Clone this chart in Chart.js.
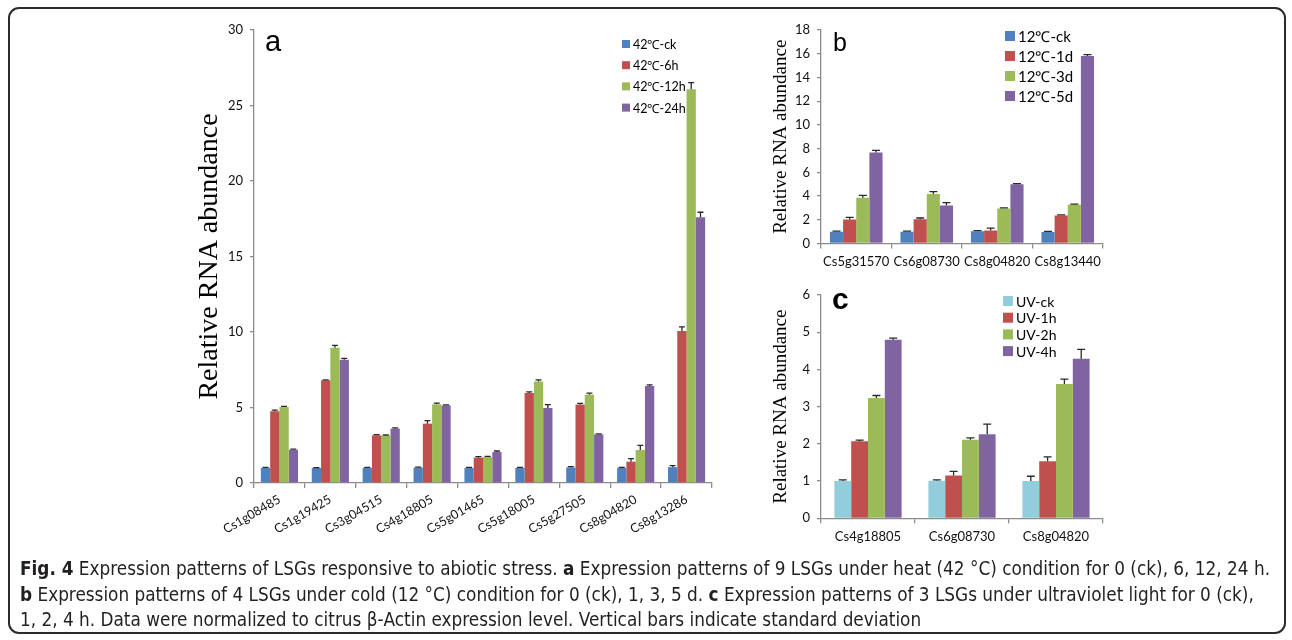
<!DOCTYPE html>
<html>
<head>
<meta charset="utf-8">
<script src="https://cdn.jsdelivr.net/npm/chart.js@4.4.1/dist/chart.umd.min.js"></script>
<style>
  body { margin: 0; background: #fff; width: 1292px; height: 640px; overflow: hidden; position: relative; }
  #frame { position: absolute; left: 8px; top: 7px; width: 1274px; height: 623px; border: 2px solid #2b2b2b; border-radius: 11px; }
  canvas { position: absolute; }
  .panel { position: absolute; font-family: "Liberation Sans", Arial, sans-serif; color: #000; line-height: 1; }
  #caption { position: absolute; left: 20px; top: 556px; font-family: "Liberation Sans Narrow", "DejaVu Sans Condensed", sans-serif;
             font-size: 18.8px; line-height: 25.5px; color: #231f20; white-space: nowrap; }
  #caption b { font-weight: bold; }
</style>
</head>
<body>
<div id="frame"></div>
<canvas id="chartA" width="540" height="560" style="left:180px;top:0px"></canvas>
<canvas id="chartB" width="350" height="280" style="left:760px;top:0px"></canvas>
<canvas id="chartC" width="350" height="280" style="left:760px;top:280px"></canvas>
<div class="panel" style="left:265px;top:27px;font-size:29px">a</div>
<div class="panel" style="left:833px;top:30px;font-size:25px">b</div>
<div class="panel" style="left:832px;top:284px;font-size:30px;font-weight:bold">c</div>
<div id="caption"><b>Fig. 4</b> Expression patterns of LSGs responsive to abiotic stress. <b>a</b> Expression patterns of 9 LSGs under heat (42 °C) condition for 0 (ck), 6, 12, 24 h.<br><b>b</b> Expression patterns of 4 LSGs under cold (12 °C) condition for 0 (ck), 1, 3, 5 d. <b>c</b> Expression patterns of 3 LSGs under ultraviolet light for 0 (ck),<br>1, 2, 4 h. Data were normalized to citrus β-Actin expression level. Vertical bars indicate standard deviation</div>
<script>
/* Panel a: heat (42 C) */
const heatGenes = ['Cs1g08485', 'Cs1g19425', 'Cs3g04515', 'Cs4g18805', 'Cs5g01465', 'Cs5g18005', 'Cs5g27505', 'Cs8g04820', 'Cs8g13286'];
const heatLabels = ['42℃-ck', '42℃-6h', '42℃-12h', '42℃-24h'];
const heatCk = [1.0, 1.0, 1.0, 1.02, 1.0, 1.0, 1.03, 1.0, 1.05];
const heat6h = [4.75, 6.8, 3.16, 3.93, 1.68, 5.96, 5.19, 1.41, 10.07];
const heat12h = [5.03, 8.96, 3.15, 5.21, 1.72, 6.73, 5.85, 2.19, 26.07];
const heat24h = [2.2, 8.17, 3.6, 5.14, 2.05, 4.97, 3.22, 6.42, 17.6];
const heatCkErr = [0.03, 0.02, 0.03, 0.03, 0.03, 0.03, 0.05, 0.03, 0.1];
const heat6hErr = [0.08, 0.03, 0.05, 0.2, 0.07, 0.07, 0.08, 0.2, 0.27];
const heat12hErr = [0.05, 0.15, 0.03, 0.08, 0.04, 0.1, 0.1, 0.3, 0.45];
const heat24hErr = [0.05, 0.08, 0.05, 0.03, 0.07, 0.22, 0.03, 0.08, 0.33];

/* Panel b: cold (12 C) */
const coldGenes = ['Cs5g31570', 'Cs6g08730', 'Cs8g04820', 'Cs8g13440'];
const coldLabels = ['12℃-ck', '12℃-1d', '12℃-3d', '12℃-5d'];
const coldCk = [1.0, 1.0, 1.04, 0.98];
const cold1d = [2.03, 2.05, 1.1, 2.37];
const cold3d = [3.85, 4.17, 2.95, 3.26];
const cold5d = [7.68, 3.2, 5.0, 15.8];
const coldCkErr = [0.05, 0.05, 0.05, 0.05];
const cold1dErr = [0.17, 0.1, 0.2, 0.05];
const cold3dErr = [0.2, 0.2, 0.05, 0.06];
const cold5dErr = [0.17, 0.25, 0.05, 0.12];

/* Panel c: UV */
const uvGenes = ['Cs4g18805', 'Cs6g08730', 'Cs8g04820'];
const uvLabels = ['UV-ck', 'UV-1h', 'UV-2h', 'UV-4h'];
const uvCk = [1.0, 1.01, 1.0];
const uv1h = [2.07, 1.15, 1.53];
const uv2h = [3.23, 2.11, 3.61];
const uv4h = [4.8, 2.26, 4.29];
const uvCkErr = [0.03, 0.02, 0.13];
const uv1hErr = [0.03, 0.11, 0.12];
const uv2hErr = [0.07, 0.05, 0.13];
const uv4hErr = [0.04, 0.27, 0.25];

const blue = '#4f81bd', red = '#c0504d', green = '#9bbb59', purple = '#8064a2', cyan = '#92cddc';
const axisGrey = '#8c8c8c';
const tickFont = "Lato, 'Liberation Sans', sans-serif";

/* error bars drawn on top of each bar */
const errorBars = {
    id: 'errorBars',
    afterDatasetsDraw(chart, args, opts) {
        const ctx = chart.ctx;
        const yScale = chart.scales.y;
        ctx.save();
        ctx.strokeStyle = '#2a2a2a';
        ctx.lineWidth = 1.3;
        chart.data.datasets.forEach((ds, i) => {
            const meta = chart.getDatasetMeta(i);
            meta.data.forEach((bar, j) => {
                const top = yScale.getPixelForValue(ds.data[j] + ds.errors[j]);
                ctx.beginPath();
                ctx.moveTo(bar.x, bar.y);
                ctx.lineTo(bar.x, top);
                ctx.moveTo(bar.x - opts.cap, top);
                ctx.lineTo(bar.x + opts.cap, top);
                ctx.stroke();
            });
        });
        ctx.restore();
    }
};

/* small legend placed inside the plot, like the original */
const boxLegend = {
    id: 'boxLegend',
    afterDraw(chart, args, opts) {
        const ctx = chart.ctx;
        ctx.save();
        ctx.font = opts.size + 'px ' + tickFont;
        ctx.textBaseline = 'middle';
        chart.data.datasets.forEach((ds, i) => {
            const y = opts.y + i * opts.gap;
            ctx.fillStyle = ds.backgroundColor;
            ctx.fillRect(opts.x, y - opts.box / 2, opts.box, opts.box);
            ctx.fillStyle = '#000';
            ctx.fillText(ds.label, opts.x + opts.box + 3, y + 1);
        });
        ctx.restore();
    }
};

function makeSets(labels, colors, values, errs) {
    return labels.map((l, i) => ({
        label: l,
        data: values[i],
        errors: errs[i],
        backgroundColor: colors[i],
        borderWidth: 0
    }));
}

function makeChart(id, genes, sets, o) {
    return new Chart(document.getElementById(id), {
        type: 'bar',
        data: { labels: genes, datasets: sets },
        plugins: [errorBars, boxLegend],
        options: {
            responsive: false,
            animation: false,
            devicePixelRatio: 1,
            categoryPercentage: o.cat,
            barPercentage: 1.0,
            layout: { padding: o.pad },
            plugins: {
                legend: { display: false },
                tooltip: { enabled: false },
                errorBars: { cap: o.cap },
                boxLegend: o.legend
            },
            scales: {
                x: {
                    afterFit: (s) => { s.height = o.xh; },
                    border: { color: axisGrey, width: 1.3 },
                    grid: { offset: true, drawOnChartArea: false, drawTicks: true, tickLength: 5, color: axisGrey, lineWidth: 1.3 },
                    ticks: { color: '#111', autoSkip: false, minRotation: o.rot, maxRotation: o.rot, padding: o.xpad,
                             font: { family: tickFont, size: o.xfont } }
                },
                y: {
                    min: 0, max: o.max,
                    afterFit: (s) => { s.width = o.yw; },
                    border: { color: axisGrey, width: 1.3 },
                    grid: { drawOnChartArea: false, drawTicks: true, tickLength: 4, color: axisGrey, lineWidth: 1.3 },
                    ticks: { stepSize: o.step, color: '#111', padding: 7, font: { family: tickFont, size: o.yfont } },
                    title: { display: true, text: 'Relative RNA abundance', color: '#000',
                             padding: { top: o.tpad, bottom: 0 },
                             font: { family: "'Liberation Serif', 'Times New Roman', serif", size: o.tfont, lineHeight: 1.2 } }
                }
            }
        }
    });
}

makeChart('chartA', heatGenes,
    makeSets(heatLabels, [blue, red, green, purple], [heatCk, heat6h, heat12h, heat24h], [heatCkErr, heat6hErr, heat12hErr, heat24hErr]),
    { cat: 0.73, cap: 3, max: 30, step: 5, yw: 74, xh: 62, rot: 30, xpad: 4, xfont: 12.5, yfont: 13, tfont: 28, tpad: 13,
      pad: { top: 30, right: 8, bottom: 15, left: 0 },
      legend: { x: 442, y: 44, gap: 21.2, box: 8, size: 12.5 } });

makeChart('chartB', coldGenes,
    makeSets(coldLabels, [blue, red, green, purple], [coldCk, cold1d, cold3d, cold5d], [coldCkErr, cold1dErr, cold3dErr, cold5dErr]),
    { cat: 0.746, cap: 4, max: 18, step: 2, yw: 61, xh: 32, rot: 0, xpad: 6, xfont: 13, yfont: 13, tfont: 19, tpad: 10,
      pad: { top: 30, right: 7, bottom: 4.5, left: 0 },
      legend: { x: 245, y: 36, gap: 20, box: 10, size: 15 } });

makeChart('chartC', uvGenes,
    makeSets(uvLabels, [cyan, red, green, purple], [uvCk, uv1h, uv2h, uv4h], [uvCkErr, uv1hErr, uv2hErr, uv4hErr]),
    { cat: 0.715, cap: 4, max: 6, step: 1, yw: 61, xh: 30, rot: 0, xpad: 6, xfont: 13, yfont: 13, tfont: 19, tpad: 10,
      pad: { top: 15, right: 7, bottom: 11.7, left: 0 },
      legend: { x: 243, y: 21, gap: 16.7, box: 10, size: 14 } });
</script>
</body>
</html>
